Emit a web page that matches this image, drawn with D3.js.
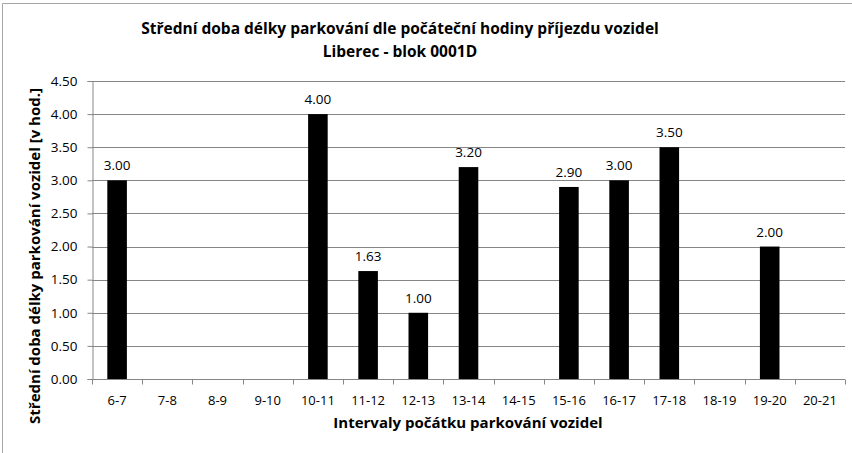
<!DOCTYPE html>
<html>
<head>
<meta charset="utf-8">
<script src="https://cdn.jsdelivr.net/npm/d3@7"></script>
<style>
body { margin: 0; background: #fff; }
text { font-family: "Open Sans", sans-serif; fill: #000; }
</style>
</head>
<body>
<script>
var width = 852;
var height = 453;

var categories = ["6-7","7-8","8-9","9-10","10-11","11-12","12-13","13-14","14-15","15-16","16-17","17-18","18-19","19-20","20-21"];
var values = [3.00, null, null, null, 4.00, 1.63, 1.00, 3.20, null, 2.90, 3.00, 3.50, null, 2.00, null];
var yTicks = [0, 0.5, 1, 1.5, 2, 2.5, 3, 3.5, 4, 4.5];
var titleLines = ["Střední doba délky parkování dle počáteční hodiny příjezdu vozidel", "Liberec - blok 0001D"];
var xTitle = "Intervaly počátku parkování vozidel";
var yTitle = "Střední doba délky parkování vozidel [v hod.]";

var margin = {left: 92, right: 7, top: 81, bottom: 74};

var svg = d3.select("body")
            .append("svg")
            .attr("width", width)
            .attr("height", height);

// chart frame (only top and left visible in the reference)
svg.append("path")
    .attr("d", "M2.5," + height + "V3.5H" + width)
    .attr("fill", "none")
    .attr("stroke", "#a6a6a6")
    .attr("stroke-width", 1);

var x = d3.scaleBand()
            .domain(categories)
            .range([margin.left, width - margin.right])
            .paddingInner(0.61)
            .paddingOuter(0.305);
var y = d3.scaleLinear()
            .domain([0, 4.5])
            .range([height - margin.bottom, margin.top]);

// gridlines
svg.selectAll(".grid")
    .data(yTicks.slice(1))
    .enter()
    .append("line")
    .attr("class", "grid")
    .attr("x1", margin.left)
    .attr("x2", width - margin.right)
    .attr("y1", function(d) { return Math.round(y(d)) + 0.5; })
    .attr("y2", function(d) { return Math.round(y(d)) + 0.5; })
    .attr("stroke", "#868686")
    .attr("stroke-width", 1);

// y axis
var yAxis = svg.append("g")
    .attr("transform", "translate(" + (margin.left + 0.5) + ",0)")
    .call(d3.axisLeft(y).tickValues(yTicks).tickFormat(d3.format(".2f")).tickSize(5).tickPadding(10));
yAxis.select(".domain").attr("stroke", "#868686");
yAxis.selectAll(".tick line").attr("stroke", "#868686");
yAxis.selectAll("text").style("font-size", "13.5px").attr("fill", "#000");

// bars
svg.selectAll(".bar")
    .data(categories)
    .enter()
    .filter(function(d, i) { return values[i] != null; })
    .append("rect")
    .attr("class", "bar")
    .attr("x", function(d) { return x(d); })
    .attr("width", x.bandwidth())
    .attr("y", function(d) { return y(values[categories.indexOf(d)]); })
    .attr("height", function(d) { return y(0) - y(values[categories.indexOf(d)]); })
    .style("fill", "#000");

// x axis
var bandStep = x.step();
var xAxis = svg.append("g")
    .attr("transform", "translate(0," + (Math.round(y(0)) + 0.5) + ")");
xAxis.append("line")
    .attr("x1", margin.left)
    .attr("x2", width - margin.right)
    .attr("stroke", "#868686");
xAxis.selectAll(".xtick")
    .data(d3.range(categories.length + 1))
    .enter()
    .append("line")
    .attr("class", "xtick")
    .attr("x1", function(i) { return Math.round(margin.left + i * bandStep) + 0.5; })
    .attr("x2", function(i) { return Math.round(margin.left + i * bandStep) + 0.5; })
    .attr("y1", 0)
    .attr("y2", 5)
    .attr("stroke", "#868686");
xAxis.selectAll(".xlabel")
    .data(categories)
    .enter()
    .append("text")
    .attr("class", "xlabel")
    .attr("x", function(d) { return x(d) + x.bandwidth() / 2; })
    .attr("y", 25)
    .attr("text-anchor", "middle")
    .style("font-size", "13px")
    .text(function(d) { return d; });

// value labels
svg.selectAll(".vlabel")
    .data(categories)
    .enter()
    .filter(function(d, i) { return values[i] != null; })
    .append("text")
    .attr("class", "vlabel")
    .attr("x", function(d) { return x(d) + x.bandwidth() / 2; })
    .attr("y", function(d) { return y(values[categories.indexOf(d)]) - 10; })
    .attr("text-anchor", "middle")
    .style("font-size", "13.5px")
    .text(function(d) { return d3.format(".2f")(values[categories.indexOf(d)]); });

// titles
svg.selectAll(".title")
    .data(titleLines)
    .enter()
    .append("text")
    .attr("class", "title")
    .attr("x", 400)
    .attr("y", function(d, i) { return 34 + i * 23; })
    .attr("text-anchor", "middle")
    .style("font-size", "15.5px")
    .style("font-weight", "bold")
    .text(function(d) { return d; });

svg.append("text")
    .attr("x", 468)
    .attr("y", 428)
    .attr("text-anchor", "middle")
    .style("font-size", "15px")
    .style("font-weight", "bold")
    .text(xTitle);

svg.append("text")
    .attr("transform", "translate(40,256) rotate(-90)")
    .attr("text-anchor", "middle")
    .style("font-size", "15px")
    .style("font-weight", "bold")
    .text(yTitle);
</script>
</body>
</html>
